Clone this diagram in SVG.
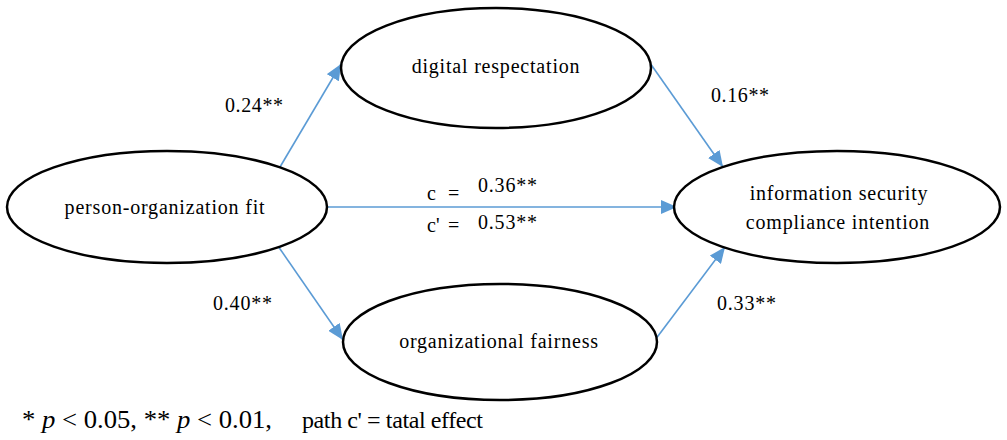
<svg xmlns="http://www.w3.org/2000/svg" width="1007" height="440" viewBox="0 0 1007 440">
<style>
.node{fill:#fff;stroke:#000;stroke-width:2.5}
.lbl{font-size:20px;fill:#000;letter-spacing:0.8px}
.num{font-size:20px;fill:#000}
.edge{stroke:#5b9bd5;stroke-width:1.6;fill:none;marker-end:url(#ah)}
</style>
<defs>
<marker id="ah" viewBox="0 0 16 14" refX="16" refY="7" markerWidth="16" markerHeight="14" markerUnits="userSpaceOnUse" orient="auto">
<path d="M0,0 L16,7 L0,14 z" fill="#5b9bd5"/>
</marker>
</defs>
<rect width="1007" height="440" fill="#fff"/>
<g id="connectors">
<line class="edge" x1="280" y1="167" x2="341" y2="64"/>
<line class="edge" x1="650" y1="63" x2="723" y2="167"/>
<line class="edge" x1="327" y1="207" x2="677" y2="207"/>
<line class="edge" x1="278" y1="246" x2="343" y2="340"/>
<line class="edge" x1="655" y1="340" x2="725" y2="247"/>
</g>
<g font-family="Liberation Serif, serif">
<g id="n-pof">
<ellipse class="node" cx="167" cy="207" rx="160" ry="56"/>
<text class="lbl" x="165" y="214" text-anchor="middle">person-organization fit</text>
</g>
<g id="n-dr">
<ellipse class="node" cx="496" cy="68" rx="155" ry="60"/>
<text class="lbl" x="496" y="73" text-anchor="middle">digital respectation</text>
</g>
<g id="n-isci">
<ellipse class="node" cx="837" cy="207" rx="163" ry="56"/>
<text class="lbl" x="839" y="200" text-anchor="middle">information security</text>
<text class="lbl" x="838" y="229" text-anchor="middle">compliance intention</text>
</g>
<g id="n-of">
<ellipse class="node" cx="500" cy="342" rx="157" ry="58"/>
<text class="lbl" x="499" y="348" text-anchor="middle">organizational fairness</text>
</g>
<g id="labels">
<text class="num" x="225" y="112" textLength="58">0.24**</text>
<text class="num" x="711" y="102" textLength="58">0.16**</text>
<text class="num" y="200" font-size="22"><tspan x="427">c</tspan><tspan x="448">=</tspan></text>
<text class="num" x="478" y="192" textLength="59">0.36**</text>
<text class="num" y="232" font-size="22"><tspan x="427">c'</tspan><tspan x="448">=</tspan></text>
<text class="num" x="478" y="229" textLength="59">0.53**</text>
<text class="num" x="213" y="310" textLength="59">0.40**</text>
<text class="num" x="717" y="310" textLength="59">0.33**</text>
<text x="22" y="428" font-size="26" textLength="250" lengthAdjust="spacingAndGlyphs">* <tspan font-style="italic">p</tspan> &lt; 0.05, ** <tspan font-style="italic">p</tspan> &lt; 0.01,</text>
<text x="302" y="428" font-size="24" textLength="181">path c' = tatal effect</text>
</g>
</g>
</svg>
